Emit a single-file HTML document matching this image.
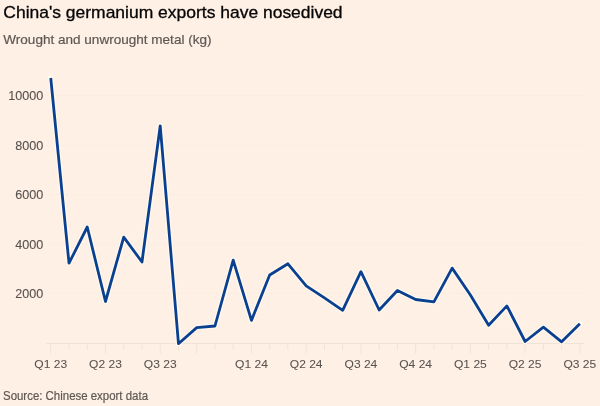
<!DOCTYPE html>
<html><head><meta charset="utf-8"><style>
html,body{margin:0;padding:0;background:#fff0e6;width:600px;height:406px;overflow:hidden}
svg{display:block;will-change:transform;font-family:"Liberation Sans",sans-serif}
</style></head><body>
<svg width="600" height="406" viewBox="0 0 600 406">
<rect width="600" height="406" fill="#fff0e6"/>
<text x="3.3" y="17.9" font-size="16.6" fill="#050505" stroke="#050505" stroke-width="0.3" textLength="339.3" lengthAdjust="spacingAndGlyphs">China's germanium exports have nosedived</text>
<text x="3.3" y="43.8" font-size="12.6" fill="#5e5854" stroke="#5e5854" stroke-width="0.2" textLength="208.2" lengthAdjust="spacingAndGlyphs">Wrought and unwrought metal (kg)</text>
<g stroke="#faeee2" stroke-width="1"><line x1="46.5" y1="95.5" x2="585" y2="95.5" /><line x1="46.5" y1="145.5" x2="585" y2="145.5" /><line x1="46.5" y1="194.5" x2="585" y2="194.5" /><line x1="46.5" y1="244.5" x2="585" y2="244.5" /><line x1="46.5" y1="293.5" x2="585" y2="293.5" /></g>
<g stroke="#efe3d8" stroke-width="1"><line x1="46.5" y1="343.5" x2="584.5" y2="343.5"/><line x1="50.75" y1="343.5" x2="50.75" y2="353.5" /><line x1="69.00" y1="343.5" x2="69.00" y2="350" /><line x1="87.24" y1="343.5" x2="87.24" y2="350" /><line x1="105.48" y1="343.5" x2="105.48" y2="353.5" /><line x1="123.73" y1="343.5" x2="123.73" y2="350" /><line x1="141.98" y1="343.5" x2="141.98" y2="350" /><line x1="160.22" y1="343.5" x2="160.22" y2="353.5" /><line x1="178.47" y1="343.5" x2="178.47" y2="350" /><line x1="196.71" y1="343.5" x2="196.71" y2="353.5" /><line x1="214.96" y1="343.5" x2="214.96" y2="350" /><line x1="233.20" y1="343.5" x2="233.20" y2="350" /><line x1="251.45" y1="343.5" x2="251.45" y2="353.5" /><line x1="269.69" y1="343.5" x2="269.69" y2="350" /><line x1="287.94" y1="343.5" x2="287.94" y2="350" /><line x1="306.18" y1="343.5" x2="306.18" y2="353.5" /><line x1="324.43" y1="343.5" x2="324.43" y2="350" /><line x1="342.67" y1="343.5" x2="342.67" y2="350" /><line x1="360.92" y1="343.5" x2="360.92" y2="353.5" /><line x1="379.16" y1="343.5" x2="379.16" y2="350" /><line x1="397.41" y1="343.5" x2="397.41" y2="350" /><line x1="415.65" y1="343.5" x2="415.65" y2="353.5" /><line x1="433.90" y1="343.5" x2="433.90" y2="350" /><line x1="452.14" y1="343.5" x2="452.14" y2="350" /><line x1="470.39" y1="343.5" x2="470.39" y2="353.5" /><line x1="488.63" y1="343.5" x2="488.63" y2="350" /><line x1="506.88" y1="343.5" x2="506.88" y2="350" /><line x1="525.12" y1="343.5" x2="525.12" y2="353.5" /><line x1="543.37" y1="343.5" x2="543.37" y2="350" /><line x1="561.61" y1="343.5" x2="561.61" y2="350" /><line x1="579.86" y1="343.5" x2="579.86" y2="353.5" /></g>
<g font-size="12.3" fill="#58524e" stroke="#58524e" stroke-width="0.1"><text x="8.20" y="100.3" textLength="35.00" lengthAdjust="spacingAndGlyphs">10000</text><text x="15.20" y="149.8" textLength="28.00" lengthAdjust="spacingAndGlyphs">8000</text><text x="15.20" y="199.3" textLength="28.00" lengthAdjust="spacingAndGlyphs">6000</text><text x="15.20" y="248.8" textLength="28.00" lengthAdjust="spacingAndGlyphs">4000</text><text x="15.20" y="298.3" textLength="28.00" lengthAdjust="spacingAndGlyphs">2000</text></g>
<g font-size="11.6" fill="#58524e" stroke="#58524e" stroke-width="0.05"><text x="34.35" y="368.2" textLength="32.8" lengthAdjust="spacingAndGlyphs">Q1 23</text><text x="89.09" y="368.2" textLength="32.8" lengthAdjust="spacingAndGlyphs">Q2 23</text><text x="143.82" y="368.2" textLength="32.8" lengthAdjust="spacingAndGlyphs">Q3 23</text><text x="235.05" y="368.2" textLength="32.8" lengthAdjust="spacingAndGlyphs">Q1 24</text><text x="289.78" y="368.2" textLength="32.8" lengthAdjust="spacingAndGlyphs">Q2 24</text><text x="344.52" y="368.2" textLength="32.8" lengthAdjust="spacingAndGlyphs">Q3 24</text><text x="399.25" y="368.2" textLength="32.8" lengthAdjust="spacingAndGlyphs">Q4 24</text><text x="453.99" y="368.2" textLength="32.8" lengthAdjust="spacingAndGlyphs">Q1 25</text><text x="508.72" y="368.2" textLength="32.8" lengthAdjust="spacingAndGlyphs">Q2 25</text><text x="563.46" y="368.2" textLength="32.8" lengthAdjust="spacingAndGlyphs">Q3 25</text></g>
<path d="M50.75,78.00 L69.00,263.20 L87.24,227.00 L105.48,301.50 L123.73,237.10 L141.98,262.00 L160.22,125.80 L178.47,343.70 L196.71,327.60 L214.96,326.00 L233.20,260.20 L251.45,320.40 L269.69,275.00 L287.94,263.80 L306.18,285.90 L324.43,297.80 L342.67,310.30 L360.92,271.70 L379.16,310.00 L397.41,290.50 L415.65,299.50 L433.90,301.80 L452.14,268.10 L470.39,295.00 L488.63,325.20 L506.88,305.90 L525.12,341.50 L543.37,327.10 L561.61,341.80 L579.86,323.70" fill="none" stroke="#fffcf0" stroke-width="5.2" stroke-linejoin="round" stroke-linecap="square" opacity="0.85"/>
<path d="M50.75,78.00 L69.00,263.20 L87.24,227.00 L105.48,301.50 L123.73,237.10 L141.98,262.00 L160.22,125.80 L178.47,343.70 L196.71,327.60 L214.96,326.00 L233.20,260.20 L251.45,320.40 L269.69,275.00 L287.94,263.80 L306.18,285.90 L324.43,297.80 L342.67,310.30 L360.92,271.70 L379.16,310.00 L397.41,290.50 L415.65,299.50 L433.90,301.80 L452.14,268.10 L470.39,295.00 L488.63,325.20 L506.88,305.90 L525.12,341.50 L543.37,327.10 L561.61,341.80 L579.86,323.70" fill="none" stroke="#0b4090" stroke-width="2.8" stroke-linejoin="round"/>
<text x="3" y="400" font-size="11.9" fill="#5e5854" stroke="#5e5854" stroke-width="0.2" textLength="145" lengthAdjust="spacingAndGlyphs">Source: Chinese export data</text>
</svg>
</body></html>
